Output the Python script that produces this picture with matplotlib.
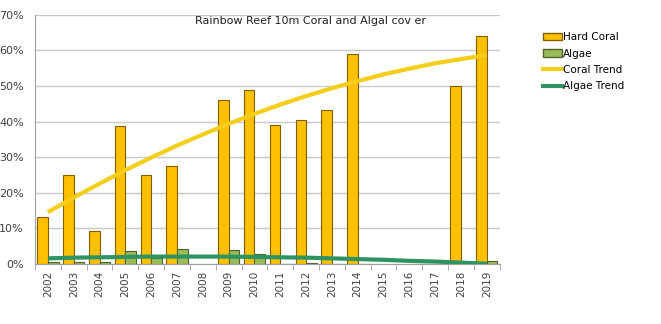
import numpy as np
import matplotlib
matplotlib.use('Agg')
from matplotlib import pyplot as plt
from matplotlib.ticker import FixedLocator, PercentFormatter
from matplotlib.patches import Patch
from matplotlib.lines import Line2D

years = [str(y) for y in range(2002, 2020)]
hard_coral = [13.2, 25.0, 9.4, 38.8, 25.0, 27.6, np.nan, 46.0, 49.0, 39.0,
              40.6, 43.2, 59.0, np.nan, np.nan, np.nan, 50.0, 64.0]
algae = [0.5, 0.5, 0.5, 3.7, 1.8, 4.2, np.nan, 3.9, 2.8, 0.0,
         0.2, 0.0, 0.0, np.nan, np.nan, np.nan, 0.0, 1.0]
coral_trend = [14.6, 18.7, 22.6, 26.4, 29.9, 33.3, 36.4, 39.4, 42.2, 44.8,
               47.2, 49.4, 51.4, 53.3, 54.9, 56.4, 57.6, 58.7]
algae_trend = [1.6, 1.8, 1.9, 2.0, 2.1, 2.1, 2.1, 2.1, 2.0, 1.9,
               1.8, 1.6, 1.4, 1.2, 0.9, 0.7, 0.4, 0.1]

coral_col = '#FFC000'
coral_edge = '#7F6000'
algae_col = '#9BBB59'
algae_edge = '#4F6228'
ctrend_col = '#F5CD1B'
atrend_col = '#2E9363'

fig = plt.figure(figsize=(6.61, 3.24), dpi=100)
ax = fig.add_axes([0.053, 0.185, 0.703, 0.769])

x = np.arange(len(years))
w = 0.41
ax.bar(x - w / 2, hard_coral, w, color=coral_col, edgecolor=coral_edge,
       linewidth=0.8, zorder=2)
ax.bar(x + w / 2, algae, w, color=algae_col, edgecolor=algae_edge,
       linewidth=0.8, zorder=2)
ax.plot(x, coral_trend, color=ctrend_col, linewidth=3, zorder=3,
        solid_capstyle='butt')
ax.plot(x, algae_trend, color=atrend_col, linewidth=3, zorder=3,
        solid_capstyle='butt')

ax.set_xlim(-0.5, len(years) - 0.5)
ax.set_ylim(0, 70)
ax.yaxis.set_major_locator(FixedLocator(np.arange(0, 71, 10)))
ax.yaxis.set_major_formatter(PercentFormatter(decimals=0))
ax.grid(True, axis='y', color='#C8C8C8', linewidth=1, zorder=0)
ax.set_axisbelow(True)

ax.set_xticks(x)
ax.set_xticklabels(years, rotation=90, fontsize=7.5, color='#404040')
ax.set_xticks(np.arange(-0.5, len(years)), minor=True)
ax.tick_params(axis='x', which='major', length=0, pad=5)
ax.tick_params(axis='x', which='minor', length=4, color='#A0A0A0')
ax.tick_params(axis='y', length=0, labelsize=8, labelcolor='#404040', pad=8)

for s in ['top', 'right']:
    ax.spines[s].set_visible(False)
ax.spines['left'].set_color('#A0A0A0')
ax.spines['bottom'].set_color('#A0A0A0')

fig.text(0.295, 0.935, 'Rainbow Reef 10m Coral and Algal cov er',
         fontsize=8, color='#202020', va='center', ha='left')

handles = [Patch(facecolor=coral_col, edgecolor=coral_edge),
           Patch(facecolor=algae_col, edgecolor=algae_edge),
           Line2D([], [], color=ctrend_col, linewidth=3),
           Line2D([], [], color=atrend_col, linewidth=3)]
fig.legend(handles, ['Hard Coral', 'Algae', 'Coral Trend', 'Algae Trend'],
           loc='upper left', bbox_to_anchor=(0.822, 0.9), frameon=False,
           fontsize=7.5, handlelength=1.8, handletextpad=0.1,
           labelspacing=0.6, borderaxespad=0, borderpad=0)

fig.savefig('out.png', dpi=100)
